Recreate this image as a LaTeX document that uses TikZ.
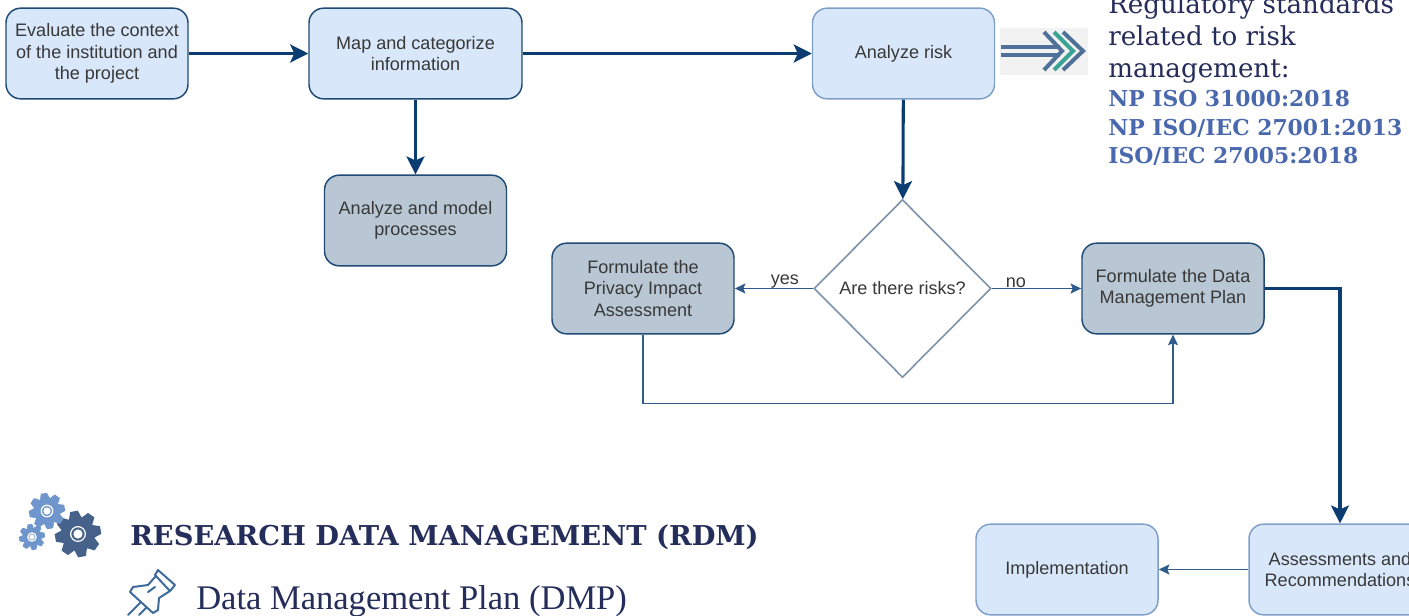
\documentclass[tikz,border=0pt]{standalone}
\usepackage{fontspec}
\setsansfont{Liberation Sans}
\newfontfamily\titlefont{DejaVu Serif}
\newfontfamily\dmpfont{Liberation Serif}
\usetikzlibrary{arrows.meta,shapes.geometric}
\definecolor{boxblue}{HTML}{D8E7FA}
\definecolor{boxgray}{HTML}{B8C7D3}
\definecolor{darkline}{HTML}{1F4A75}
\definecolor{softline}{HTML}{7F9FCB}
\definecolor{arrowblue}{HTML}{0B3D72}
\definecolor{thinblue}{HTML}{2F5C8C}
\definecolor{diamondline}{HTML}{7D93AA}
\definecolor{navytext}{HTML}{252D5A}
\definecolor{isoblue}{HTML}{4A68AE}
\definecolor{geardark}{HTML}{46628A}
\definecolor{gearlight}{HTML}{6F96CC}
\definecolor{pinblue}{HTML}{3F6A9C}
\definecolor{chevblue}{HTML}{4F7199}
\definecolor{chevteal}{HTML}{3AA394}
\tikzset{
  flowbox/.style={rectangle, rounded corners=11pt, minimum width=136.5pt, minimum height=68pt, inner sep=0pt, align=center, text=black!78, line width=1.1pt, font=\sffamily\fontsize{13.55}{15.9}\selectfont},
  bluebox/.style={flowbox, fill=boxblue, draw=darkline},
  softbox/.style={flowbox, fill=boxblue, draw=softline},
  graybox/.style={flowbox, fill=boxgray, draw=darkline},
  decision/.style={diamond, draw=diamondline, fill=white, line width=1.2pt, minimum width=132.75pt, minimum height=133.5pt, inner sep=0pt, text=black!78, font=\sffamily\fontsize{13.55}{15.9}\selectfont},
  thickflow/.style={arrowblue, line width=2.3pt, -{Stealth[length=13.5pt,width=13.5pt,inset=3pt]}},
  thinflow/.style={thinblue, line width=1.1pt, -{Stealth[length=8pt,width=7.5pt,inset=1.5pt]}},
  flowlabel/.style={inner sep=0pt, text=black!78, font=\sffamily\fontsize{13.55}{15.9}\selectfont},
  stdtext/.style={anchor=base west, inner sep=0pt, text=navytext, font=\titlefont\fontsize{19.6}{24}\selectfont},
  isotext/.style={anchor=base west, inner sep=0pt, text=isoblue, font=\titlefont\bfseries\fontsize{16.4}{20}\selectfont},
  gearpart/.pic={
    \foreach \angle in {0,45,...,315}
      \fill[rotate=\angle+10] (-0.27,0.7) -- (0.27,0.7) -- (0.17,1) -- (-0.17,1) -- cycle;
    \fill (0,0) circle (0.75);
    \draw[white!75, line width=0.9pt] (0,0) circle (0.32);
    \fill[white!80] (0,0) circle (0.2);
  }
}
\begin{document}
\begin{tikzpicture}[x=0.75pt,y=-0.75pt]
  \useasboundingbox (0,0) rectangle (1409,615);

  % Top row
  \node[bluebox] (context) at (97,53.5) {Evaluate the context\\of the institution and\\the project};
  \node[bluebox, minimum width=159.75pt] (mapinfo) at (415.5,53.5) {Map and categorize\\information};
  \node[softbox] (risk) at (903.5,53.5) {Analyze risk};
  \node[graybox] (model) at (415.5,220.5) {Analyze and model\\processes};

  % Decision row
  \node[decision] (risks) at (902.5,288.5) {Are there risks?};
  \node[graybox] (privacy) at (643,288.5) {Formulate the\\Privacy Impact\\Assessment};
  \node[graybox] (dataplan) at (1173,288.5) {Formulate the Data\\Management Plan};

  % Bottom row
  \node[softbox] (assess) at (1340,569.5) {Assessments and\\Recommendations};
  \node[softbox] (implement) at (1067,569.5) {Implementation};

  % Thick connectors
  \draw[thickflow] (context) -- (mapinfo);
  \draw[thickflow] (mapinfo.east |- risk) -- (risk);
  \draw[thickflow] (mapinfo) -- (model);
  \draw[thickflow] (risk) -- (risks);
  \draw[thickflow] (dataplan.east) -| (assess.north);

  % Thin connectors
  \draw[thinflow] (risks) -- node[flowlabel, pos=0.36, above=-0.5pt] (yeslabel) {yes} (privacy);
  \draw[thinflow] (risks) -- node[flowlabel, pos=0.27, above=0pt] (nolabel) {no} (dataplan);
  \draw[thinflow] (privacy.south) -- ++(0,69) -| (dataplan.south);
  \draw[thinflow] (assess) -- (implement);

  % Chevron icon
  \fill[black!5] (1000,28) rectangle (1088,75);
  \draw[chevblue, line width=2.8pt] (1001,47) -- (1060,47);
  \draw[chevblue, line width=2.8pt] (1001,55) -- (1060,55);
  \draw[chevblue, line width=3pt] (1044,32) -- (1062,51) -- (1044,70);
  \draw[chevblue, line width=3pt] (1063,32) -- (1083,51) -- (1063,70);
  \draw[chevteal, line width=3pt] (1054,32) -- (1073,51) -- (1054,70);

  % Regulatory standards
  \node[stdtext] (stdone) at (1108,13) {Regulatory standards};
  \node[stdtext] (stdtwo) at (1108,45) {related to risk};
  \node[stdtext] (stdthree) at (1108,77) {management:};
  \node[isotext] (isoone) at (1108,106) {NP ISO 31000:2018};
  \node[isotext] (isotwo) at (1108,135) {NP ISO/IEC 27001:2013};
  \node[isotext] (isothree) at (1108,163) {ISO/IEC 27005:2018};

  % Gears
  \pic[geardark, scale=23] at (78,534) {gearpart};
  \pic[gearlight, scale=18] at (47,511) {gearpart};
  \pic[gearlight, scale=13] at (32,537) {gearpart};

  % Headings
  \node[anchor=base west, inner sep=0pt, text=navytext, font=\titlefont\bfseries\fontsize{20.5}{24}\selectfont] (rdmtitle) at (130,545) {RESEARCH DATA MANAGEMENT (RDM)};
  \node[anchor=base west, inner sep=0pt, text=navytext, font=\dmpfont\fontsize{25.9}{30}\selectfont] (dmptitle) at (196,609) {Data Management Plan (DMP)};

  % Pin
  \draw[pinblue, line width=1.5pt, line join=round, line cap=round]
    (158,570) -- (175,585) -- (170,591) -- (155,575) -- cycle
    (155,577) -- (148,585) -- (133,587) -- (130,592) -- (153,613) -- (158,610) -- (159,598) -- (170,591)
    (148,592) -- (155,587)
    (140,603) -- (128,615)
    (146,608) -- (139,615);
\end{tikzpicture}
\end{document}
